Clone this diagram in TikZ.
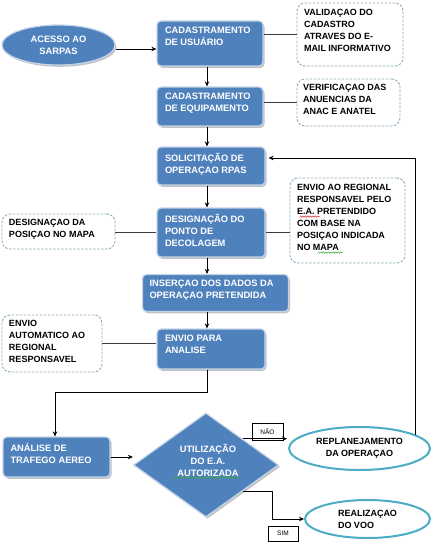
\documentclass[tikz,border=0pt]{standalone}
\usepackage{fontspec}
\setmainfont{Liberation Sans}
\usetikzlibrary{shapes.geometric,shadows,arrows.meta,calc,decorations.pathmorphing}
\definecolor{boxblue}{RGB}{79,129,189}
\definecolor{boxedge}{RGB}{196,212,232}
\definecolor{dashcol}{RGB}{140,172,188}
\definecolor{tealc}{RGB}{75,172,198}
\definecolor{linecol}{RGB}{60,60,60}
\definecolor{squigg}{RGB}{60,170,60}
\definecolor{squigr}{RGB}{210,40,40}
\newcommand{\tbox}[3]{\parbox[c][#1pt][t]{#2pt}{#3}}
\tikzset{
  bluebox/.style={rectangle, rounded corners=4pt, fill=boxblue, draw=boxedge, line width=1.2pt,
    text=white, inner sep=0pt, font=\bfseries\fontsize{9.3}{12}\selectfont,
    drop shadow={shadow xshift=1.5pt, shadow yshift=-1.8pt, fill=black!40, opacity=0.6}},
  notebox/.style={rectangle, rounded corners=8pt, draw=dashcol, dashed, dash pattern=on 2.5pt off 1.5pt,
    line width=0.9pt, fill=white, inner sep=0pt, font=\bfseries\fontsize{9}{12}\selectfont, text=black},
  blueell/.style={ellipse, fill=boxblue, draw=boxedge, line width=1.2pt, text=white, inner sep=0pt,
    font=\bfseries\fontsize{9.3}{12}\selectfont, align=center,
    drop shadow={shadow xshift=1.5pt, shadow yshift=-1.8pt, fill=black!40, opacity=0.6}},
  tealell/.style={ellipse, fill=white, draw=tealc, line width=2pt, text=black, inner sep=0pt,
    font=\bfseries\fontsize{9}{12}\selectfont},
  dia/.style={diamond, fill=boxblue, draw=boxedge, line width=1.2pt, text=white, inner sep=0pt,
    font=\bfseries\fontsize{9.3}{12}\selectfont, align=center,
    drop shadow={shadow xshift=1.5pt, shadow yshift=-1.8pt, fill=black!40, opacity=0.6}},
  lbl/.style={rectangle, draw=black, line width=0.6pt, fill=white, inner sep=0pt, font=\fontsize{6.5}{8}\selectfont},
  arr/.style={draw=black, line width=0.9pt, -{Stealth[length=5pt,width=4.5pt]}},
  conn/.style={draw=linecol, line width=1.1pt},
  squiggle/.style={line width=0.5pt, decorate, decoration={snake, amplitude=0.7pt, segment length=2.5pt}},
}
\begin{document}
\begin{tikzpicture}[x=1pt,y=-1pt]
\useasboundingbox (0,0) rectangle (433,551);
% main blue boxes
\node[blueell, minimum width=113pt, minimum height=40pt] (acesso) at (58.5,45) {ACESSO AO\\SARPAS};
\node[bluebox, minimum width=106pt, minimum height=45pt] (user) at (210,43.5) {\tbox{33}{90}{CADASTRAMENTO\\DE USUÁRIO}};
\node[bluebox, minimum width=106pt, minimum height=39pt] (equip) at (210,106.5) {\tbox{27}{90}{CADASTRAMENTO\\DE EQUIPAMENTO}};
\node[bluebox, minimum width=108pt, minimum height=38pt] (solic) at (211,166) {\tbox{26}{92}{SOLICITAÇÃO DE\\OPERAÇAO RPAS}};
\node[bluebox, minimum width=108pt, minimum height=49pt] (desig) at (211,232.5) {\tbox{37}{92}{DESIGNAÇÃO DO\\PONTO DE\\DECOLAGEM}};
\node[bluebox, minimum width=146pt, minimum height=37pt] (inser) at (215.5,293) {\tbox{25}{132}{INSERÇAO DOS DADOS DA\\OPERAÇAO PRETENDIDA}};
\node[bluebox, minimum width=108pt, minimum height=40pt] (envio) at (211,349) {\tbox{28}{92}{ENVIO PARA\\ANALISE}};
\node[bluebox, minimum width=107pt, minimum height=40pt] (analise) at (56.5,457) {\tbox{28}{92}{ANÁLISE DE\\TRAFEGO AEREO}};
\node[dia, minimum width=145pt, minimum height=104pt] (diam) at (206,465) {};
\node[text=white, font=\bfseries\fontsize{9.3}{12}\selectfont, align=center] (diamtxt) at (208,460) {UTILIZAÇÃO\\DO E.A.\\AUTORIZADA};
% note boxes
\node[notebox, minimum width=106pt, minimum height=63pt] (valid) at (350,34.5) {\tbox{51}{92}{VALIDAÇAO DO\\CADASTRO\\ATRAVES DO E-\\MAIL INFORMATIVO}};
\node[notebox, minimum width=103pt, minimum height=47pt] (verif) at (348.5,102.5) {\tbox{37}{91}{VERIFICAÇAO DAS\\ANUENCIAS DA\\ANAC E ANATEL}};
\node[notebox, minimum width=113pt, minimum height=35pt] (posic) at (58.5,231.5) {\tbox{25}{99}{DESIGNAÇAO DA\\POSIÇAO NO MAPA}};
\node[notebox, minimum width=115pt, minimum height=85pt] (envreg) at (347.5,220.5) {\tbox{73}{101}{ENVIO AO REGIONAL\\RESPONSAVEL PELO\\E.A. PRETENDIDO\\COM BASE NA\\POSIÇAO INDICADA\\NO MAPA}};
\node[notebox, minimum width=100pt, minimum height=57pt] (autom) at (52,343.5) {\tbox{47}{86}{ENVIO\\AUTOMATICO AO\\REGIONAL\\RESPONSAVEL}};
% ellipses
\node[tealell, minimum width=141pt, minimum height=43pt, align=center] (repl) at (359.5,448.5) {REPLANEJAMENTO\\DA OPERAÇAO};
\node[tealell, minimum width=125pt, minimum height=38pt, align=left] (real) at (367.5,519) {REALIZAÇAO\\DO VOO};
% labels
\node[lbl, minimum width=31pt, minimum height=17pt] (nao) at (267.5,431.5) {NÃO};
\node[lbl, minimum width=30pt, minimum height=15pt] (sim) at (283,533.5) {SIM};
% spell-check squiggles
\draw[squiggle, squigr] ($(envreg.north west)+(10,39)$) -- ++(20,0);
\draw[squiggle, squigg] ($(envreg.north west)+(28,75)$) -- ++(25,0);
\draw[squiggle, squigg] ($(diam.center)+(-33,12.5)$) -- ++(66,0);
% coordinates
\coordinate (turn1) at (55,392);
\coordinate (rtop) at (415,434.5);
\coordinate (simturn) at (272,494);
% connectors to notes
\draw[conn] (user.east |- valid.west) -- (valid.west);
\draw[conn] (equip.east |- verif.west) -- (verif.west);
\draw[conn] (desig.west) -- (desig.west -| posic.east);
\draw[conn] (desig.east) -- (desig.east -| envreg.west);
\draw[conn] (envio.west |- autom.east) -- (autom.east);
% arrows
\draw[arr] ([yshift=-4pt]acesso.east) -- ([yshift=-4pt]acesso.east -| user.west);
\draw[arr] ([xshift=-3pt]user.south) -- ([xshift=-3pt]equip.north);
\draw[arr] ([xshift=-3pt]equip.south) -- ([xshift=-4pt]solic.north);
\draw[arr] ([xshift=-4pt]solic.south) -- ([xshift=-4pt]desig.north);
\draw[arr] ([xshift=-4pt]desig.south) -- ([xshift=-4pt]desig.south |- inser.north);
\draw[arr] ([xshift=-4pt]envio.north |- inser.south) -- ([xshift=-4pt]envio.north);
\draw[arr] ([xshift=-4pt]envio.south) |- (turn1) -- (turn1 |- analise.north);
\draw[arr] (analise.east) -- (analise.east -| diam.west);
\draw[arr] (diam.north east) -- ([xshift=-1pt]diam.north east -| repl.west);
\draw[arr] (diam.south east) -- (diam.south east -| simturn) |- (real.west);
\draw[arr] (rtop) |- ([yshift=8pt,xshift=3pt]solic.east);
\end{tikzpicture}
\end{document}
